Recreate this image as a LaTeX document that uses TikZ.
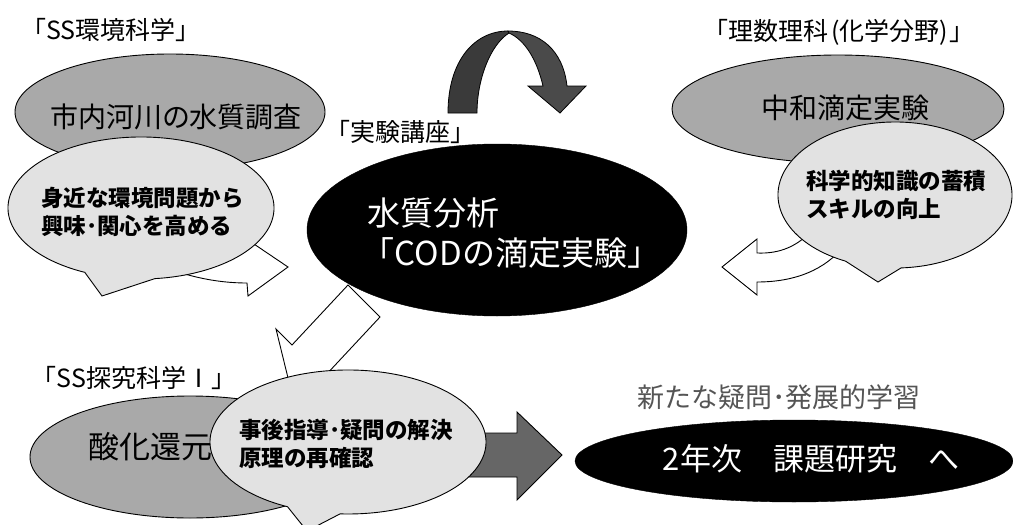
\documentclass[tikz,border=0pt]{standalone}
\usepackage{fontspec}
\setmainfont{Noto Sans CJK JP}
\usetikzlibrary{shapes.geometric,calc}
\definecolor{midgray}{HTML}{A9A9A9}
\definecolor{lightgray2}{HTML}{E2E2E2}
\definecolor{arrowgray}{HTML}{666666}
\definecolor{curvegray}{HTML}{3A3A3A}
\definecolor{curvegray2}{HTML}{4A4A4A}
\definecolor{labelgray}{HTML}{555555}
\begin{document}
\begin{tikzpicture}[x=1pt,y=-1pt,
  grayell/.style={ellipse, draw=black, line width=0.9pt, fill=midgray, inner sep=0pt},
  blackell/.style={ellipse, draw=black, fill=black, inner sep=0pt},
  bubble/.style={draw=black, line width=0.9pt, fill=lightgray2},
  hollow/.style={draw=black, line width=0.9pt, fill=white, line join=miter},
  solidarrow/.style={draw=black, line width=0.9pt, fill=arrowgray},
  curved/.style={draw=black, line width=0.8pt},
  lbl/.style={inner sep=0pt, font=\fontsize{25}{29}\selectfont},
  big/.style={inner sep=0pt, font=\fontsize{28}{32}\selectfont},
  bubtxt/.style={inner sep=0pt, align=left, font=\fontsize{22.5}{28}\selectfont\bfseries},
  wtxt/.style={inner sep=0pt, text=white, font=\fontsize{33}{40}\selectfont}]

\useasboundingbox (0,0) rectangle (1013,525);
\fill[white] (0,0) rectangle (1013,525);
\clip (0,0) rectangle (1013,525);

% ---- top left group ----
\path[hollow] (150,262) .. controls (185,276) and (215,283) .. (247,283) -- (248,296) -- (288,267) -- (248,240) -- (246,250) .. controls (215,250) and (185,245) .. (160,232) -- cycle;
\node[grayell, minimum width=310pt, minimum height=116pt] (env) at (170,112) {};
\node[big] (envt) at (176,117) {市内河川の水質調査};
\path[bubble] (102,296) -- ($(141,208)+(115:133 and 71)$) arc[start angle=115, end angle=444, x radius=133, y radius=71] -- cycle;
\node[bubtxt, anchor=west] (envb) at (41,212) {身近な環境問題から\\興味･関心を高める};

% ---- top right group ----
\node[grayell, minimum width=332pt, minimum height=108pt] (neut) at (838,109) {};
\node[big] (neutt) at (845,108) {中和滴定実験};
\path[hollow] (722,267) -- (757,239) -- (757,253) .. controls (780,254) and (798,246) .. (812,230) -- (845,245) .. controls (825,270) and (795,282) .. (757,282) -- (757,295) -- cycle;
\path[bubble] (878,282) -- ($(895,195)+(115:117 and 73)$) arc[start angle=115, end angle=447, x radius=117, y radius=73] -- cycle;
\node[bubtxt, anchor=west] (neutb) at (806,195) {科学的知識の蓄積\\スキルの向上};

% ---- centre ----
\path[hollow] (348,285) -- (292,345) -- (276,329) -- (289,382) -- (342,390) -- (324,377) -- (380,317) -- cycle;
\node[blackell, minimum width=380pt, minimum height=172pt] (cod) at (497,230) {};
\node[wtxt, anchor=west] (cod1) at (367,213) {水質分析};
\node[wtxt] (cod2) at (511,253) {「CODの滴定実験」};

% ---- bottom left group ----
\node[grayell, minimum width=320pt, minimum height=122pt] (redox) at (190,457) {};
\node[big, font=\fontsize{31}{36}\selectfont, anchor=west] (redoxt) at (88,447) {酸化還元};
\path[solidarrow] (455,433) -- (517,433) -- (517,412) -- (562,455) -- (517,500) -- (517,477) -- (455,477) -- cycle;
\path[bubble] (307,531) -- ($(348,442)+(116:138 and 72)$) arc[start angle=116, end angle=453.3, x radius=138, y radius=72] -- cycle;
\node[bubtxt, anchor=west] (redoxb) at (239,444) {事後指導･疑問の解決\\原理の再確認};

% ---- bottom right ----
\node[blackell, minimum width=438pt, minimum height=82pt] (next) at (794,461) {};
\node[wtxt, font=\fontsize{31}{36}\selectfont] (nextt) at (811,459) {2年次　課題研究　へ};
\node[inner sep=0pt, text=labelgray, font=\fontsize{27}{31}\selectfont] (newq) at (779,397) {新たな疑問･発展的学習};

% ---- curved arrow ----
\path[curved, fill=curvegray] (448,113) .. controls (448,60) and (475,31) .. (508,31) -- (509,33) .. controls (490,45) and (477,80) .. (477,113) -- cycle;
\path[curved, fill=curvegray2] (508,31) .. controls (540,31) and (563,50) .. (567,86) -- (586,86) -- (560,113) -- (528,86) -- (543,86) .. controls (537,60) and (525,40) .. (509,33) -- cycle;

% ---- labels ----
\node[lbl] (l1) at (111,30) {「SS環境科学」};
\node[lbl] (l2) at (839,32) {「理数理科\hspace{3pt}(化学分野)\hspace{2pt}」};
\node[lbl] (l3) at (400,132) {「実験講座」};
\node[lbl] (l4) at (134,378) {「SS探究科学Ⅰ」};
\end{tikzpicture}
\end{document}
